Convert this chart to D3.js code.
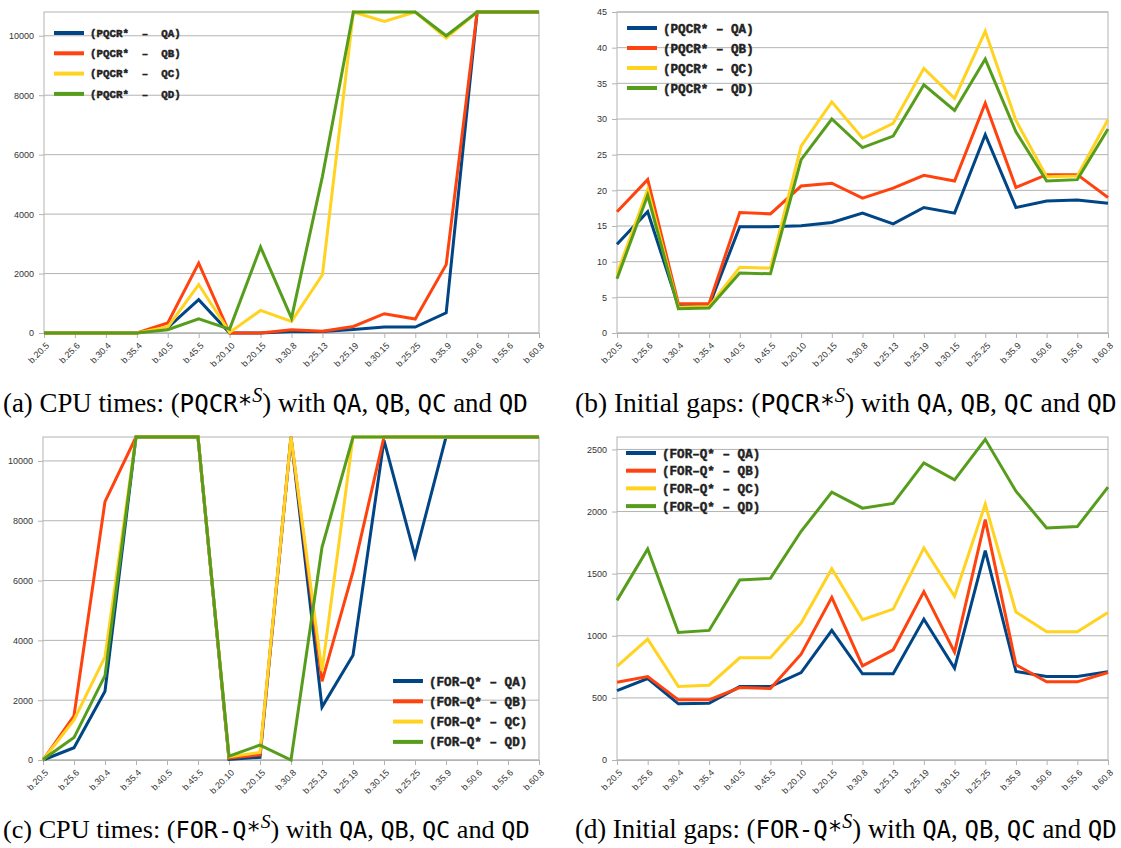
<!DOCTYPE html>
<html>
<head>
<meta charset="utf-8">
<script src="https://d3js.org/d3.v7.min.js"></script>
<style>
  body { margin: 0; background: #fff; }
  svg text { font-family: "Liberation Sans", Arial, sans-serif; }
</style>
</head>
<body>
<div id="chart"></div>
<script>
// categories on the x axis (same for all four panels)
const categories = ["b.20.5","b.25.6","b.30.4","b.35.4","b.40.5","b.45.5","b.20.10","b.20.15","b.30.8",
                    "b.25.13","b.25.19","b.30.15","b.25.25","b.35.9","b.50.6","b.55.6","b.60.8"];

// (a) CPU times, PQCR*
const cpuPqcrQA = [0,0,0,0,180,1120,0,0,50,50,120,200,200,680,10800,10800,10800];
const cpuPqcrQB = [0,0,0,0,340,2350,0,0,110,60,220,650,470,2300,10800,10800,10800];
const cpuPqcrQC = [0,0,0,0,200,1630,20,760,390,1960,10800,10480,10800,9920,10800,10800,10800];
const cpuPqcrQD = [0,0,0,0,110,480,130,2890,500,5270,10800,10800,10800,10000,10800,10800,10800];

// (b) initial gaps, PQCR*
const gapPqcrQA = [12.45,17.0,3.8,3.8,14.9,14.9,15.05,15.5,16.8,15.3,17.6,16.8,27.8,17.6,18.5,18.65,18.2];
const gapPqcrQB = [17.0,21.5,4.1,4.1,16.9,16.7,20.6,21.0,18.9,20.3,22.1,21.3,32.2,20.4,22.2,22.2,19.0];
const gapPqcrQC = [8.3,20.1,3.6,3.7,9.2,9.1,26.2,32.4,27.3,29.4,37.1,32.9,42.3,29.8,21.9,22.0,29.9];
const gapPqcrQD = [7.6,19.3,3.4,3.5,8.4,8.3,24.3,30.0,26.0,27.6,34.8,31.2,38.4,28.2,21.3,21.5,28.6];

// (c) CPU times, FOR-Q*
const cpuForQA = [0,410,2300,10800,10800,10800,20,90,10800,1770,3500,10690,6810,10800,10800,10800,10800];
const cpuForQB = [0,1480,8640,10800,10800,10800,60,170,10800,2630,6300,10800,10800,10800,10800,10800,10800];
const cpuForQC = [0,1340,3450,10800,10800,10800,110,250,10800,2970,10800,10800,10800,10800,10800,10800,10800];
const cpuForQD = [20,750,2820,10800,10800,10800,130,500,0,7110,10800,10800,10800,10800,10800,10800,10800];

// (d) initial gaps, FOR-Q*
const gapForQA = [559,656,452,457,591,591,704,1043,694,694,1134,739,1685,712,672,672,710];
const gapForQB = [626,672,484,484,583,575,852,1309,758,887,1355,868,1935,766,629,629,704];
const gapForQC = [753,973,591,602,823,823,1102,1540,1129,1215,1707,1317,2059,1191,1032,1032,1188];
const gapForQD = [1285,1699,1027,1043,1449,1462,1841,2156,2027,2065,2392,2255,2581,2164,1868,1879,2196];

// y tick labels
const cpuTicks = [0,2000,4000,6000,8000,10000];
const gapPqcrTicks = [0,5,10,15,20,25,30,35,40,45];
const gapForTicks = [0,500,1000,1500,2000,2500];

// legend labels
const pqcrLabelsA = ["(PQCR*  \u2013  QA)","(PQCR*  \u2013  QB)","(PQCR*  \u2013  QC)","(PQCR*  \u2013  QD)"];
const pqcrLabels = ["(PQCR* \u2013 QA)","(PQCR* \u2013 QB)","(PQCR* \u2013 QC)","(PQCR* \u2013 QD)"];
const forLabels = ["(FOR\u2013Q* \u2013 QA)","(FOR\u2013Q* \u2013 QB)","(FOR\u2013Q* \u2013 QC)","(FOR\u2013Q* \u2013 QD)"];

const colors = ["#004586", "#ff420e", "#ffd320", "#579d1c"];

const W = 1121, H = 848;
var svg = d3.select("#chart").append("svg")
    .attr("width", W).attr("height", H)
    .style("background", "#fff");

function drawPanel(p) {
  var x = d3.scalePoint().domain(categories).range([p.x0, p.x1]);
  var y = d3.scaleLinear().domain([0, p.ymax]).range([p.y1, p.y0]);
  var g = svg.append("g");

  // horizontal grid
  g.selectAll(".grid").data(p.ticks).enter().append("line")
    .attr("x1", p.x0).attr("x2", p.x1)
    .attr("y1", d => y(d)).attr("y2", d => y(d))
    .attr("stroke", "#b3b3b3").attr("stroke-width", 1);

  // frame
  g.append("rect")
    .attr("x", p.x0).attr("y", p.y0)
    .attr("width", p.x1 - p.x0).attr("height", p.y1 - p.y0)
    .attr("fill", "none").attr("stroke", "#b3b3b3");

  // y axis
  var ya = g.append("g")
    .attr("transform", "translate(" + p.x0 + ",0)")
    .call(d3.axisLeft(y).tickValues(p.ticks).tickFormat(d3.format("d")).tickSize(5).tickPadding(5));
  ya.select(".domain").remove();
  ya.selectAll("line").attr("stroke", "#b3b3b3");
  ya.selectAll("text").style("font-size", "9px").attr("fill", "#333");

  // x axis
  var xa = g.append("g")
    .attr("transform", "translate(0," + p.y1 + ")")
    .call(d3.axisBottom(x).tickSize(5));
  xa.select(".domain").attr("stroke", "#b3b3b3");
  xa.selectAll("line").attr("stroke", "#b3b3b3");
  xa.selectAll("text")
    .style("font-size", "9px").attr("fill", "#333")
    .attr("y", 0).attr("dy", "0.35em")
    .attr("transform", "translate(3,11) rotate(-45)")
    .style("text-anchor", "end");

  // lines
  var line = d3.line().x((d, i) => x(categories[i])).y(d => y(d));
  g.selectAll(".series").data(p.series).enter().append("path")
    .attr("d", d => line(d))
    .attr("fill", "none")
    .attr("stroke", (d, i) => colors[i])
    .attr("stroke-width", 3)
    .attr("stroke-linejoin", "miter");

  // legend
  var lg = g.append("g");
  p.labels.forEach(function(lab, i) {
    var ly = p.legY + i * p.legStep;
    lg.append("line")
      .attr("x1", p.legX).attr("x2", p.legX + 30)
      .attr("y1", ly).attr("y2", ly)
      .attr("stroke", colors[i]).attr("stroke-width", 4);
    lg.append("text")
      .attr("x", p.legX + 36).attr("y", ly)
      .attr("dy", "0.36em")
      .style("font-family", "'Liberation Mono', monospace")
      .style("font-size", p.legFont + "px")
      .style("font-weight", "bold")
      .style("white-space", "pre")
      .attr("fill", "#222")
      .attr("stroke", "#222").attr("stroke-width", 0.45)
      .text(lab);
  });
}

drawPanel({ x0: 44, x1: 539, y0: 12, y1: 333, ymax: 10800, ticks: cpuTicks,
  series: [cpuPqcrQA, cpuPqcrQB, cpuPqcrQC, cpuPqcrQD], labels: pqcrLabelsA,
  legX: 54, legY: 33, legStep: 20.3, legFont: 10.8 });
drawPanel({ x0: 617, x1: 1108, y0: 12, y1: 333, ymax: 45, ticks: gapPqcrTicks,
  series: [gapPqcrQA, gapPqcrQB, gapPqcrQC, gapPqcrQD], labels: pqcrLabels,
  legX: 627, legY: 28, legStep: 20, legFont: 12.6 });
drawPanel({ x0: 43, x1: 539, y0: 437, y1: 760, ymax: 10800, ticks: cpuTicks,
  series: [cpuForQA, cpuForQB, cpuForQC, cpuForQD], labels: forLabels,
  legX: 393, legY: 681, legStep: 20.3, legFont: 12.6 });
drawPanel({ x0: 617, x1: 1108, y0: 437, y1: 760, ymax: 2600, ticks: gapForTicks,
  series: [gapForQA, gapForQB, gapForQC, gapForQD], labels: forLabels,
  legX: 626, legY: 453, legStep: 17.7, legFont: 12.6 });

// captions (LaTeX style: serif text with typewriter parts)
function caption(x, yb, width, letter, kind, algo) {
  var t = svg.append("text").attr("x", x).attr("y", yb)
    .style("font-family", "'Liberation Serif', serif")
    .style("font-size", "20px")
    .attr("fill", "#000");
  var mono = "'DejaVu Sans Mono', monospace";
  var parts = [
    ["(" + letter + ") " + kind + ": (", null],
    [algo, mono],
    ["S", "sup"],
    [") with ", null], ["QA", mono], [", ", null], ["QB", mono], [", ", null],
    ["QC", mono], [" and ", null], ["QD", mono]
  ];
  parts.forEach(function(p) {
    var ts = t.append("tspan").text(p[0]);
    if (p[1] === "sup") {
      ts.attr("dy", "-0.5em").style("font-size", "0.75em").style("font-style", "italic")
        .style("font-family", "'Liberation Serif', serif");
    } else {
      if (p[0] === ") with ") ts.attr("dy", "0.375em");
      if (p[1]) ts.style("font-family", p[1]).style("font-size", "0.9em");
    }
  });
  // fit to the measured width of the original caption
  var w = t.node().getComputedTextLength();
  t.style("font-size", (20 * width / w) + "px");
}

caption(3, 412, 525, "a", "CPU times", "PQCR*");
caption(575, 412, 542, "b", "Initial gaps", "PQCR*");
caption(3, 838, 527, "c", "CPU times", "FOR-Q*");
caption(575, 838, 542, "d", "Initial gaps", "FOR-Q*");
</script>
</body>
</html>
